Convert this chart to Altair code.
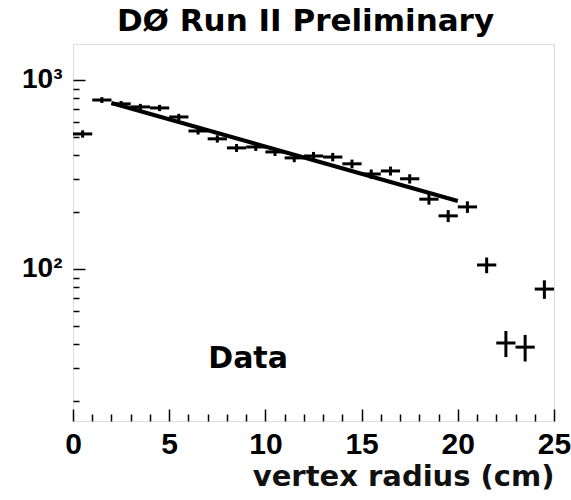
import altair as alt
import pandas as pd

# ---- data ----
bin_center = [0.5, 1.5, 2.5, 3.5, 4.5, 5.5, 6.5, 7.5, 8.5, 9.5, 10.5, 11.5, 12.5,
              13.5, 14.5, 15.5, 16.5, 17.5, 18.5, 19.5, 20.5, 21.5, 22.5, 23.5, 24.5]
counts = [518, 783, 747, 720, 711, 637, 537, 488, 437, 442, 416, 387, 396,
          391, 360, 318, 330, 300, 234, 191, 213, 105, 40.6, 38.6, 78.3]
errors = [23, 28, 27, 27, 27, 25, 23, 22, 21, 21, 20, 20, 20,
          20, 19, 18, 18, 17, 15, 14, 15, 10, 6.4, 6.2, 8.8]
fit_x = [2.0, 20.0]
fit_y = [755, 229]
x_major = [0, 5, 10, 15, 20, 25]
x_minor = [1, 2, 3, 4, 6, 7, 8, 9, 11, 12, 13, 14, 16, 17, 18, 19, 21, 22, 23, 24]
y_major = [100, 1000]
y_minor = [20, 30, 40, 50, 60, 70, 80, 90, 200, 300, 400, 500, 600, 700, 800, 900]
label_text = ["Data"]
label_x = [9.1]
label_y = [30]

df = pd.DataFrame({"x": bin_center, "n": counts, "e": errors})
fit = pd.DataFrame({"fx": fit_x, "fy": fit_y})
lab = pd.DataFrame({"t": label_text, "lx": label_x, "ly": label_y})

xs = alt.Scale(domain=[0, 25], nice=False, zero=False)
ys = alt.Scale(type="log", domain=[15.7, 1549], nice=False)

LBL_FONT = "Liberation Sans"

ax_x_labels = alt.Axis(orient="bottom", values=x_major, ticks=False, domain=False, grid=False,
                       labelFont=LBL_FONT, labelFontSize=30, labelFontWeight="bold",
                       labelColor="black", labelPadding=8, labelFlush=False, labelOverlap=False,
                       title="vertex radius (cm)", titleFont="DejaVu Sans", titleFontSize=29,
                       titleFontWeight="bold", titleColor="#111111", titleAnchor="end",
                       titleAlign="right", titleBaseline="alphabetic", titleX=481, titleY=64)
ax_y_labels = alt.Axis(orient="left", values=y_major, ticks=False, domain=False, grid=False,
                       labelFont=LBL_FONT, labelFontSize=28, labelFontWeight="bold",
                       labelColor="black", labelPadding=11, labelOverlap=False,
                       labelExpr="datum.value == 1000 ? '10³' : '10²'", title=None)

def tick_axis(orient, vals, size):
    return alt.Axis(orient=orient, values=vals, ticks=True, tickSize=size, tickColor="black",
                    tickWidth=1.5, offset=-size, domain=False, labels=False, grid=False,
                    title=None)

hbar = alt.Chart(df).transform_calculate(
    lo="datum.x - 0.5", hi="datum.x + 0.5"
).mark_rule(color="black", strokeWidth=3).encode(
    x=alt.X("lo:Q", scale=xs, axis=ax_x_labels),
    x2="hi:Q",
    y=alt.Y("n:Q", scale=ys, axis=ax_y_labels),
)

vbar = alt.Chart(df).transform_calculate(
    elo="datum.n - datum.e", ehi="datum.n + datum.e"
).mark_rule(color="black", strokeWidth=3).encode(
    x=alt.X("x:Q", scale=xs, axis=tick_axis("bottom", x_major, 12)),
    y=alt.Y("elo:Q", scale=ys, axis=tick_axis("left", y_major, 12)),
    y2="ehi:Q",
)

line = alt.Chart(fit).mark_line(color="black", strokeWidth=4).encode(
    x=alt.X("fx:Q", scale=xs, axis=tick_axis("bottom", x_minor, 7)),
    y=alt.Y("fy:Q", scale=ys, axis=tick_axis("left", y_minor, 6)),
)

txt = alt.Chart(lab).mark_text(font="DejaVu Sans", fontSize=30, fontWeight="bold",
                               color="black", align="center", baseline="alphabetic").encode(
    x=alt.X("lx:Q", scale=xs, axis=None),
    y=alt.Y("ly:Q", scale=ys, axis=None),
    text="t:N",
)

chart = alt.layer(hbar, vbar, line, txt).resolve_axis(
    x="independent", y="independent"
).properties(
    width=481, height=377,
    title=alt.TitleParams("DØ Run II Preliminary", font="DejaVu Sans", fontSize=31,
                          fontWeight="bold", color="black", anchor="middle", dx=-8, dy=29,
                          offset=11, baseline="alphabetic", frame="group"),
    autosize=alt.AutoSizeParams(type="none"),
    padding={"left": 73, "top": 44, "right": 17, "bottom": 79},
).configure_view(stroke="black", strokeWidth=2).configure(background="white")

chart.save("out.html", embed_options={"renderer": "svg", "actions": False})
